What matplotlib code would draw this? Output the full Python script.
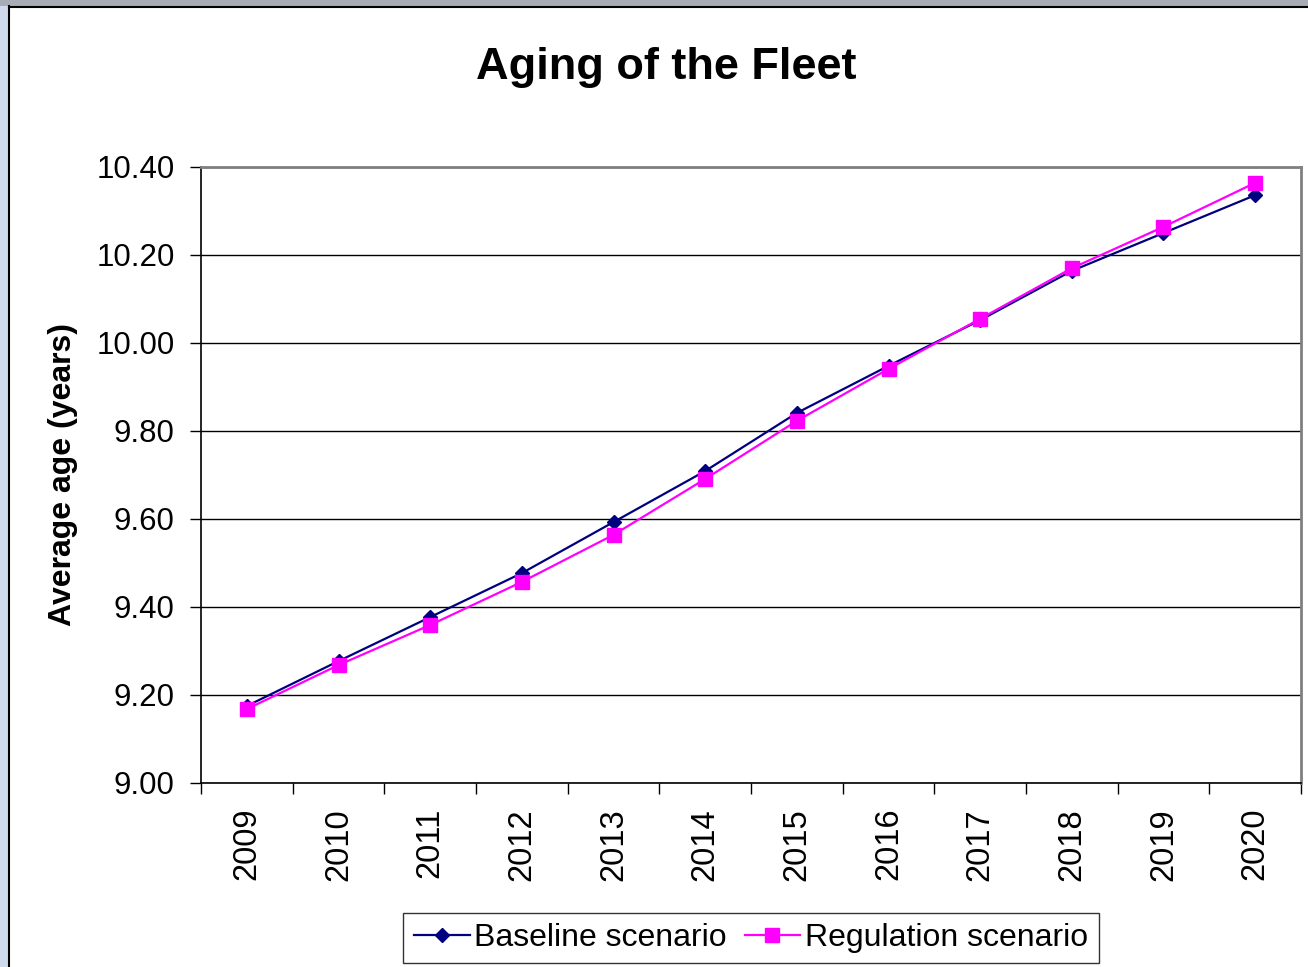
import matplotlib
matplotlib.use('Agg')
import matplotlib.pyplot as plt
import matplotlib.ticker as ticker
from matplotlib.patches import Rectangle
from matplotlib.lines import Line2D

plt.rcParams['font.family'] = ['Liberation Sans', 'DejaVu Sans']

years = ['2009', '2010', '2011', '2012', '2013', '2014',
         '2015', '2016', '2017', '2018', '2019', '2020']
baseline = [9.175, 9.277, 9.377, 9.477, 9.593, 9.709,
            9.841, 9.948, 10.052, 10.164, 10.250, 10.336]
regulation = [9.168, 9.268, 9.359, 9.457, 9.564, 9.691,
              9.823, 9.941, 10.055, 10.170, 10.264, 10.364]

W, H = 1308, 967
fig = plt.figure(figsize=(W / 100, H / 100), dpi=100)
fig.patch.set_facecolor('white')

# window-ish frame around the chart area
fig.patches.append(Rectangle((0, 0), 8 / W, 1, transform=fig.transFigure,
                             facecolor='#cfdbec', edgecolor='none', zorder=0))
fig.patches.append(Rectangle((0, 1 - 6 / H), 1, 6 / H, transform=fig.transFigure,
                             facecolor='#a8acb4', edgecolor='none', zorder=0))
fig.lines.append(Line2D([8.5 / W, 8.5 / W], [0, 1 - 6 / H], transform=fig.transFigure,
                        color='black', lw=1.5))
fig.lines.append(Line2D([8.5 / W, 1], [1 - 6.5 / H, 1 - 6.5 / H], transform=fig.transFigure,
                        color='black', lw=1.5))

ax = fig.add_axes([201 / W, (H - 783) / H, 1100 / W, 616 / H])

x = list(range(len(years)))
ax.plot(x, baseline, color='#000080', lw=1.6, marker='D', markersize=7.5,
        label='Baseline scenario', zorder=3)
ax.plot(x, regulation, color='#ff00ff', lw=1.6, marker='s', markersize=10,
        label='Regulation scenario', zorder=3)

ax.set_xlim(-0.5, len(years) - 0.5)
ax.set_ylim(9.0, 10.4)
ax.yaxis.set_major_locator(ticker.MultipleLocator(0.2))
ax.yaxis.set_major_formatter(ticker.FormatStrFormatter('%.2f'))
ax.grid(axis='y', color='black', lw=1)
ax.set_axisbelow(True)

ax.set_xticks([i - 0.5 for i in range(len(years) + 1)])
ax.set_xticklabels([])
ax.set_xticks(x, minor=True)
ax.set_xticklabels(years, minor=True, rotation=90, fontsize=23.5)
ax.tick_params(axis='x', which='minor', length=0, pad=18)
ax.tick_params(axis='x', which='major', length=8, width=1, color='black')
ax.tick_params(axis='y', length=8, width=1, labelsize=22.5, pad=11)

for s in ['left', 'bottom']:
    ax.spines[s].set_color('black')
    ax.spines[s].set_linewidth(1.2)
for s in ['top', 'right']:
    ax.spines[s].set_color('#808080')
    ax.spines[s].set_linewidth(2)

ax.set_ylabel('Average age (years)', fontsize=23, fontweight='bold', labelpad=13)
fig.text(666 / W, 1 - 68 / H, 'Aging of the Fleet', fontsize=32.5, fontweight='bold',
         ha='center', va='center')

leg = ax.legend(loc='center', bbox_to_anchor=(0.5, -0.252), ncol=2, fontsize=23,
                frameon=True, fancybox=False, handlelength=1.75, handletextpad=0.15,
                columnspacing=0.55, borderpad=0.32, borderaxespad=0)
leg.get_frame().set_edgecolor('black')
leg.get_frame().set_linewidth(1)

plt.savefig('out.png', dpi=100)
